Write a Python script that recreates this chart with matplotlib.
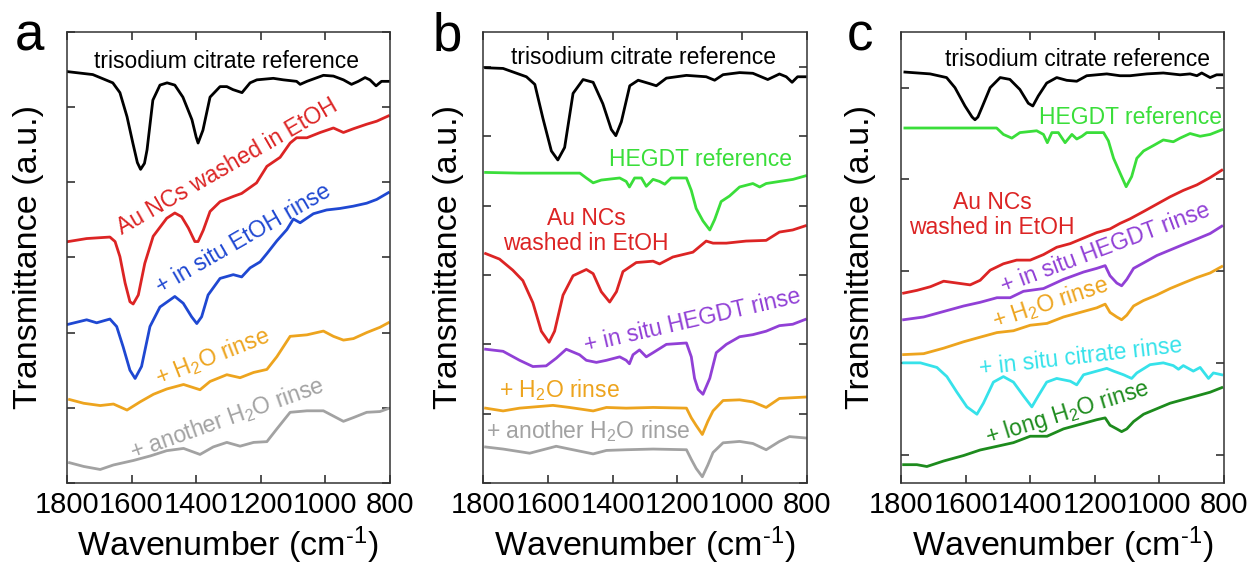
"""
FTIR spectra of Au NCs after the different rinse steps (three panels)
"""

import matplotlib
matplotlib.use("Agg")
import matplotlib.pyplot as plt

plt.rcParams["font.family"] = ["Liberation Sans", "DejaVu Sans"]
plt.rcParams["mathtext.fontset"] = "custom"
plt.rcParams["mathtext.rm"] = "Liberation Sans"
plt.rcParams["mathtext.it"] = "Liberation Sans:italic"
plt.rcParams["mathtext.default"] = "regular"

XTICKS = [1800, 1600, 1400, 1200, 1000, 800]

# ---- panel a ----
a_citrate_w = [1800, 1720, 1658, 1636, 1614, 1596, 1582, 1572, 1560, 1552, 1534, 1512, 1490, 1466,
               1441, 1413, 1400, 1394, 1379, 1357, 1326, 1305, 1286, 1258, 1233, 1212, 1161,
               1130, 1089, 1078, 1057, 1006, 975, 944, 919, 898, 877, 862, 843, 826, 805]
a_citrate_t = [5.47, 5.43, 5.32, 5.19, 4.87, 4.52, 4.26, 4.17, 4.25, 4.43, 5.09, 5.29, 5.32, 5.29,
               5.13, 4.83, 4.60, 4.52, 4.69, 5.13, 5.27, 5.27, 5.23, 5.19, 5.32, 5.36, 5.38,
               5.36, 5.34, 5.30, 5.34, 5.42, 5.41, 5.36, 5.30, 5.34, 5.39, 5.36, 5.28, 5.34, 5.34]
a_etoh_w = [1796, 1739, 1667, 1651, 1636, 1620, 1605, 1595, 1579, 1559, 1533, 1491, 1466, 1445,
            1424, 1404, 1394, 1378, 1357, 1326, 1285, 1259, 1213, 1181, 1140, 1109, 1089, 1057,
            1016, 975, 944, 913, 872, 841, 805]
a_etoh_t = [3.21, 3.25, 3.27, 3.21, 3.01, 2.66, 2.41, 2.38, 2.50, 2.92, 3.28, 3.52, 3.59, 3.54,
            3.39, 3.21, 3.21, 3.36, 3.61, 3.74, 3.81, 3.85, 3.99, 4.21, 4.33, 4.52, 4.59, 4.59,
            4.66, 4.72, 4.66, 4.71, 4.77, 4.81, 4.88]
a_insitu_w = [1796, 1739, 1708, 1667, 1646, 1626, 1605, 1589, 1569, 1543, 1512, 1466, 1440, 1414,
              1398, 1383, 1363, 1326, 1285, 1259, 1233, 1202, 1181, 1150, 1119, 1099, 1078, 1037,
              996, 955, 914, 872, 841, 805]
a_insitu_t = [2.11, 2.17, 2.13, 2.18, 2.08, 1.81, 1.50, 1.39, 1.55, 2.08, 2.34, 2.48, 2.39, 2.21,
              2.12, 2.21, 2.50, 2.72, 2.77, 2.74, 2.86, 2.94, 3.05, 3.22, 3.37, 3.51, 3.46, 3.58,
              3.63, 3.65, 3.68, 3.72, 3.77, 3.86]
a_h2o_w = [1792, 1748, 1697, 1656, 1614, 1573, 1532, 1491, 1439, 1388, 1357, 1305, 1264, 1222,
           1181, 1150, 1109, 1057, 1006, 975, 944, 913, 872, 831, 805]
a_h2o_t = [1.11, 1.06, 1.03, 1.05, 0.97, 1.08, 1.18, 1.25, 1.31, 1.24, 1.35, 1.44, 1.40, 1.47,
           1.51, 1.68, 1.95, 1.97, 2.02, 1.95, 1.90, 1.92, 2.0, 2.07, 2.13]
a_h2o2_w = [1792, 1748, 1697, 1656, 1594, 1542, 1491, 1439, 1388, 1347, 1305, 1264, 1222, 1181,
            1150, 1109, 1057, 1006, 975, 944, 913, 872, 831, 805]
a_h2o2_t = [0.27, 0.22, 0.18, 0.24, 0.30, 0.36, 0.43, 0.46, 0.38, 0.48, 0.54, 0.49, 0.54, 0.55,
            0.72, 0.94, 0.96, 0.96, 0.89, 0.82, 0.87, 0.94, 0.95, 0.99]

# ---- panel b ----
b_citrate_w = [1792, 1738, 1666, 1640, 1615, 1589, 1569, 1548, 1522, 1491, 1460, 1430, 1404, 1390,
               1373, 1347, 1321, 1285, 1265, 1234, 1172, 1111, 1085, 1059, 1008, 967, 921, 885,
               864, 846, 829, 805]
b_citrate_t = [5.99, 5.98, 5.86, 5.75, 5.26, 4.79, 4.66, 4.84, 5.62, 5.82, 5.78, 5.47, 5.10, 5.01,
               5.21, 5.73, 5.81, 5.76, 5.73, 5.84, 5.88, 5.86, 5.81, 5.89, 5.92, 5.91, 5.82, 5.90,
               5.86, 5.78, 5.86, 5.86]
b_hegdt_w = [1792, 1687, 1501, 1481, 1460, 1435, 1378, 1358, 1348, 1332, 1311, 1296, 1275, 1255,
             1239, 1219, 1172, 1157, 1142, 1121, 1100, 1085, 1065, 1039, 1008, 967, 946, 926,
             885, 843, 805]
b_hegdt_t = [4.48, 4.47, 4.47, 4.40, 4.33, 4.37, 4.40, 4.35, 4.27, 4.40, 4.40, 4.28, 4.38, 4.35,
             4.31, 4.40, 4.40, 4.22, 3.96, 3.78, 3.65, 3.80, 4.06, 4.14, 4.27, 4.32, 4.27, 4.32,
             4.35, 4.38, 4.43]
b_etoh_w = [1792, 1749, 1708, 1677, 1646, 1620, 1596, 1579, 1553, 1522, 1481, 1460, 1435, 1409,
            1388, 1368, 1327, 1275, 1255, 1214, 1152, 1111, 1090, 1049, 988, 926, 885, 844, 805]
b_etoh_t = [3.31, 3.23, 3.07, 2.92, 2.60, 2.19, 2.03, 2.19, 2.71, 2.99, 3.08, 3.02, 2.76, 2.61,
            2.76, 3.05, 3.18, 3.20, 3.16, 3.26, 3.33, 3.49, 3.46, 3.46, 3.49, 3.50, 3.62, 3.65, 3.71]
b_insitu_w = [1792, 1738, 1687, 1646, 1605, 1574, 1543, 1502, 1481, 1450, 1419, 1378, 1358, 1348,
              1337, 1317, 1296, 1275, 1234, 1172, 1157, 1147, 1136, 1121, 1100, 1080, 1049, 1008,
              967, 926, 885, 844, 805]
b_insitu_t = [1.93, 1.90, 1.77, 1.68, 1.69, 1.80, 1.93, 1.85, 1.77, 1.74, 1.77, 1.82, 1.77, 1.72,
              1.85, 1.92, 1.82, 1.88, 2.00, 2.02, 1.82, 1.51, 1.35, 1.28, 1.51, 1.88, 2.00, 2.11,
              2.14, 2.19, 2.27, 2.29, 2.36]
b_h2o_w = [1792, 1738, 1687, 1584, 1533, 1460, 1419, 1358, 1275, 1172, 1157, 1142, 1123, 1106,
           1090, 1059, 1008, 967, 926, 885, 805]
b_h2o_t = [1.08, 1.04, 1.08, 1.12, 1.09, 1.04, 1.09, 1.08, 1.09, 1.08, 0.94, 0.83, 0.70, 0.89,
           1.04, 1.19, 1.20, 1.17, 1.09, 1.22, 1.24]
b_h2o2_w = [1792, 1738, 1656, 1574, 1533, 1460, 1419, 1358, 1275, 1172, 1157, 1142, 1123, 1106,
            1090, 1059, 1008, 967, 926, 885, 854, 805]
b_h2o2_t = [0.52, 0.49, 0.43, 0.53, 0.49, 0.42, 0.47, 0.48, 0.49, 0.48, 0.34, 0.21, 0.09, 0.26,
            0.44, 0.58, 0.60, 0.57, 0.48, 0.60, 0.67, 0.65]

# ---- panel c ----
c_citrate_w = [1788, 1710, 1659, 1633, 1602, 1580, 1571, 1562, 1550, 1524, 1493, 1463, 1432, 1406,
               1392, 1375, 1349, 1318, 1287, 1256, 1225, 1163, 1122, 1091, 1039, 988, 936, 905,
               884, 869, 843, 823, 807]
c_citrate_t = [4.17, 4.15, 4.11, 4.00, 3.80, 3.68, 3.65, 3.68, 3.78, 4.00, 4.11, 4.09, 3.98, 3.83,
               3.80, 3.91, 4.05, 4.11, 4.08, 4.07, 4.13, 4.15, 4.13, 4.13, 4.15, 4.16, 4.14, 4.15,
               4.13, 4.16, 4.11, 4.14, 4.14]
c_hegdt_w = [1788, 1658, 1504, 1483, 1457, 1432, 1380, 1359, 1347, 1333, 1313, 1292, 1271, 1256,
             1240, 1225, 1173, 1158, 1142, 1122, 1103, 1086, 1070, 1049, 1018, 988, 957, 936,
             905, 874, 843, 807]
c_hegdt_t = [3.56, 3.56, 3.56, 3.49, 3.45, 3.51, 3.53, 3.49, 3.40, 3.51, 3.51, 3.40, 3.49, 3.44,
             3.47, 3.51, 3.51, 3.42, 3.23, 3.07, 2.92, 3.03, 3.23, 3.31, 3.37, 3.43, 3.41, 3.45,
             3.50, 3.47, 3.49, 3.54]
c_etoh_w = [1792, 1751, 1709, 1668, 1627, 1586, 1555, 1524, 1483, 1442, 1400, 1359, 1318, 1276,
            1235, 1194, 1153, 1122, 1091, 1049, 1008, 967, 926, 884, 843, 807]
c_etoh_t = [1.76, 1.79, 1.83, 1.89, 1.87, 1.85, 1.90, 2.01, 2.08, 2.12, 2.12, 2.18, 2.26, 2.30,
            2.36, 2.42, 2.46, 2.52, 2.57, 2.65, 2.73, 2.81, 2.88, 2.94, 3.02, 3.10]
c_insitu_w = [1792, 1730, 1668, 1606, 1555, 1503, 1462, 1421, 1359, 1297, 1235, 1194, 1168, 1153,
              1132, 1117, 1101, 1080, 1049, 1008, 967, 926, 884, 843, 807]
c_insitu_t = [1.47, 1.50, 1.56, 1.62, 1.66, 1.71, 1.71, 1.78, 1.81, 1.91, 1.99, 2.03, 2.06, 1.95,
              1.87, 1.84, 1.91, 2.03, 2.09, 2.17, 2.23, 2.29, 2.35, 2.41, 2.49]
c_h2o_w = [1792, 1730, 1668, 1606, 1555, 1503, 1452, 1400, 1348, 1297, 1235, 1194, 1168, 1153,
           1132, 1117, 1101, 1080, 1049, 1008, 967, 926, 884, 843, 807]
c_h2o_t = [1.09, 1.10, 1.16, 1.23, 1.28, 1.33, 1.35, 1.41, 1.43, 1.50, 1.56, 1.60, 1.64, 1.55,
           1.50, 1.47, 1.52, 1.62, 1.68, 1.74, 1.81, 1.87, 1.93, 1.98, 2.05]
c_cit_rinse_w = [1792, 1740, 1689, 1658, 1627, 1596, 1565, 1545, 1514, 1483, 1452, 1421, 1395,
                 1375, 1349, 1318, 1276, 1256, 1235, 1194, 1163, 1142, 1111, 1086, 1070, 1029,
                 988, 957, 941, 926, 895, 874, 848, 833, 807]
c_cit_rinse_t = [1.00, 1.00, 0.95, 0.85, 0.68, 0.52, 0.44, 0.56, 0.79, 0.85, 0.79, 0.64, 0.52,
                 0.64, 0.79, 0.83, 0.80, 0.76, 0.87, 0.91, 0.94, 0.91, 0.87, 0.83, 0.89, 0.98,
                 1.00, 0.97, 0.93, 0.97, 0.91, 0.95, 0.83, 0.89, 0.87]
c_long_w = [1792, 1751, 1720, 1668, 1606, 1555, 1503, 1452, 1400, 1348, 1297, 1235, 1194, 1168,
            1153, 1132, 1117, 1101, 1080, 1049, 1008, 967, 926, 884, 843, 807]
c_long_t = [-0.11, -0.11, -0.13, -0.07, -0.01, 0.05, 0.09, 0.13, 0.20, 0.20, 0.28, 0.34, 0.38,
            0.40, 0.32, 0.28, 0.25, 0.28, 0.36, 0.44, 0.50, 0.56, 0.60, 0.64, 0.68, 0.73]

BLACK = "#000000"
RED = "#dc2424"
BLUE = "#1f48d2"
ORANGE = "#eda41e"
GRAY = "#a2a2a2"
GREEN = "#3ade3a"
PURPLE = "#9140d6"
CYAN = "#36e2ea"
DKGREEN = "#1d8b1d"

H2O = "H$_2$O"

panels = [
    dict(letter="a", left=0.0536, width=0.2586, ylim=(0, 6), yticks=range(0, 7), ylab_x=-0.071,
         curves=[(a_citrate_w, a_citrate_t, BLACK), (a_etoh_w, a_etoh_t, RED),
                 (a_insitu_w, a_insitu_t, BLUE), (a_h2o_w, a_h2o_t, ORANGE),
                 (a_h2o2_w, a_h2o2_t, GRAY)],
         labels=[("trisodium citrate reference", 1305, 5.61, 0, BLACK),
                 ("Au NCs washed in EtOH", 1305, 4.20, 30, RED),
                 ("+ in situ EtOH rinse", 1255, 3.24, 30, BLUE),
                 ("+ " + H2O + " rinse", 1348, 1.68, 21.5, ORANGE),
                 ("+ another " + H2O + " rinse", 1305, 0.86, 19.5, GRAY)],
         letter_x=0.012),
    dict(letter="b", left=0.3867, width=0.2594, ylim=(0, 6.51), yticks=range(0, 7), ylab_x=-0.059,
         curves=[(b_citrate_w, b_citrate_t, BLACK), (b_hegdt_w, b_hegdt_t, GREEN),
                 (b_etoh_w, b_etoh_t, RED), (b_insitu_w, b_insitu_t, PURPLE),
                 (b_h2o_w, b_h2o_t, ORANGE), (b_h2o2_w, b_h2o2_t, GRAY)],
         labels=[("trisodium citrate reference", 1306, 6.14, 0, BLACK),
                 ("HEGDT reference", 1130, 4.66, 0, GREEN),
                 ("Au NCs\nwashed in EtOH", 1482, 3.63, 0, RED),
                 ("+ in situ HEGDT rinse", 1155, 2.34, 13, PURPLE),
                 ("+ " + H2O + " rinse", 1565, 1.34, 0, ORANGE),
                 ("+ another " + H2O + " rinse", 1476, 0.75, 0, GRAY)],
         letter_x=0.3467),
    dict(letter="c", left=0.7214, width=0.2586, ylim=(-0.31, 4.61), yticks=range(0, 5), ylab_x=-0.077,
         curves=[(c_citrate_w, c_citrate_t, BLACK), (c_hegdt_w, c_hegdt_t, GREEN),
                 (c_etoh_w, c_etoh_t, RED), (c_insitu_w, c_insitu_t, PURPLE),
                 (c_h2o_w, c_h2o_t, ORANGE), (c_cit_rinse_w, c_cit_rinse_t, CYAN),
                 (c_long_w, c_long_t, DKGREEN)],
         labels=[("trisodium citrate reference", 1255, 4.31, 0, BLACK),
                 ("HEGDT reference", 1088, 3.68, 0, GREEN),
                 ("Au NCs\nwashed in EtOH", 1518, 2.61, 0, RED),
                 ("+ in situ HEGDT rinse", 1168, 2.25, 20.5, PURPLE),
                 ("+ " + H2O + " rinse", 1339, 1.66, 18.3, ORANGE),
                 ("+ in situ citrate rinse", 1243, 1.06, 6.5, CYAN),
                 ("+ long " + H2O + " rinse", 1286, 0.45, 17.2, DKGREEN)],
         letter_x=0.678),
]


def draw_panel(fig, p):
    ax = fig.add_axes([p["left"], 0.1451, p["width"], 0.7988])
    for w, t, col in p["curves"]:
        ax.plot(w, t, color=col, lw=2.0, solid_joinstyle="round")
    for txt, x, y, rot, col in p["labels"]:
        ax.text(x, y, txt, color=col, fontsize=16.5, rotation=rot, ha="center", va="center",
                rotation_mode="anchor", multialignment="center", linespacing=1.1)
    ax.set_xlim(1800, 800)
    ax.set_ylim(*p["ylim"])
    ax.set_xticks(XTICKS)
    ax.set_yticks(list(p["yticks"]))
    ax.set_yticklabels([])
    ax.tick_params(direction="in", top=True, right=True, length=6, width=1.1,
                   labelsize=21, pad=6, color="#222222")
    for s in ax.spines.values():
        s.set_linewidth(1.1)
        s.set_color("#333333")
    ax.set_xlabel("Wavenumber (cm$^{\u20101}$)", fontsize=24.5, labelpad=4)
    ax.set_ylabel("Transmittance (a.u.)", fontsize=24.5)
    ax.yaxis.set_label_coords(p["ylab_x"], 0.5)
    fig.text(p["letter_x"], 0.9115, p["letter"], fontsize=38, ha="left", va="baseline")
    return ax


def main():
    fig = plt.figure(figsize=(12.49, 5.65), dpi=100)
    for p in panels:
        draw_panel(fig, p)
    fig.savefig("out.png", dpi=100, facecolor="white")


if __name__ == "__main__":
    main()
